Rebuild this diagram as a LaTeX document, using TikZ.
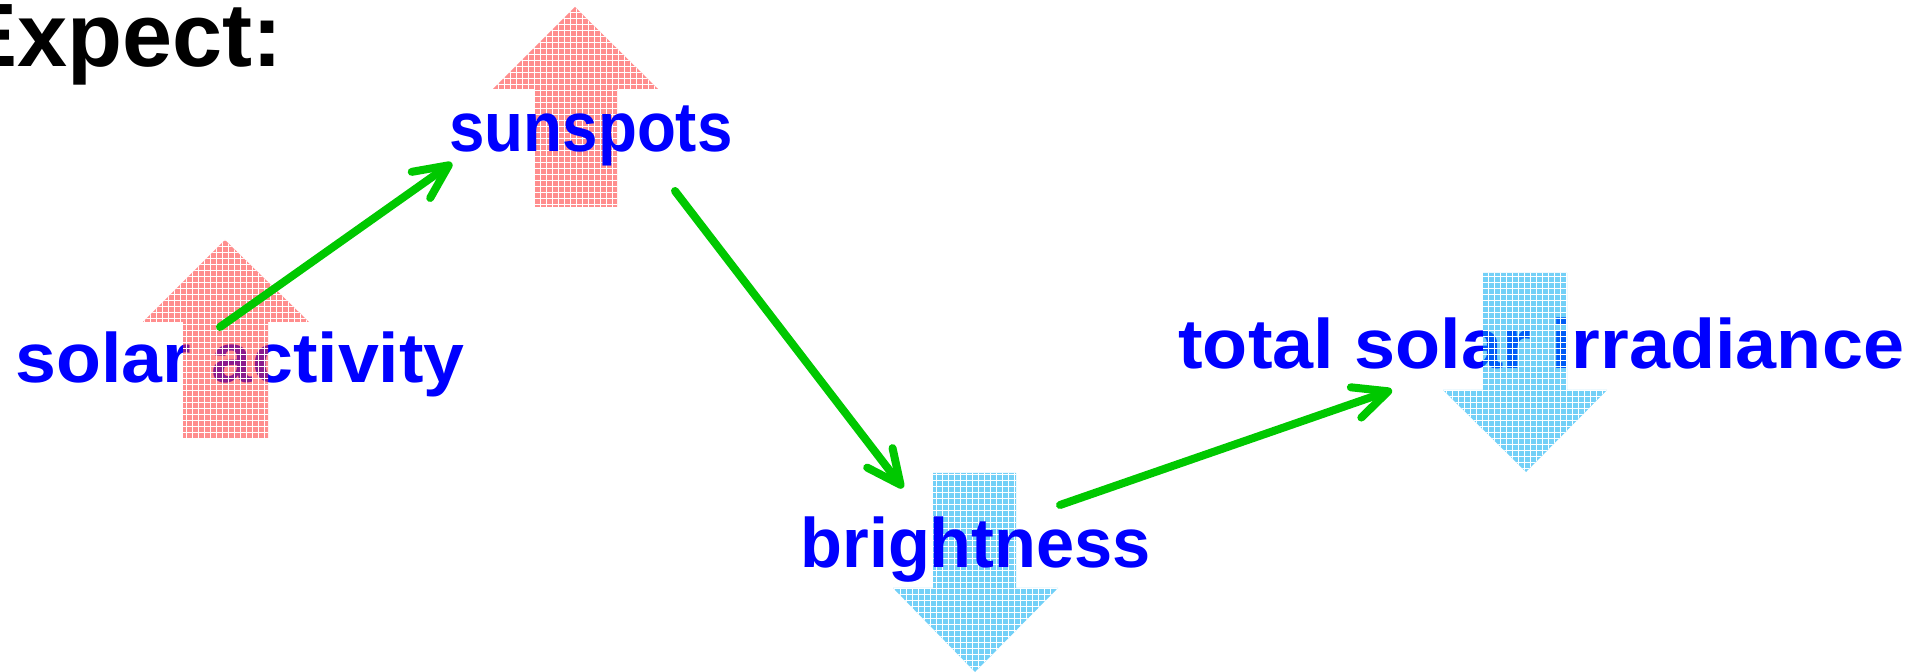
\documentclass[tikz,border=0pt]{standalone}
\usepackage{fontspec}
\setmainfont{Liberation Sans}
\usetikzlibrary{arrows.meta,patterns}
\definecolor{txtblue}{RGB}{0,0,255}
\definecolor{grn}{RGB}{0,200,0}
\definecolor{redtone}{RGB}{255,50,50}
\definecolor{cyantone}{RGB}{0,170,240}
\begin{document}
\begin{tikzpicture}[x=0.5pt,y=-0.5pt,
  lbl/.style={font=\fontsize{35pt}{40pt}\selectfont\bfseries, text=txtblue, inner sep=0pt, anchor=base west},
  ttl/.style={font=\fontsize{45pt}{50pt}\selectfont\bfseries, text=black, inner sep=0pt, anchor=base east},
  redarrow/.style={fill=redtone, fill opacity=0.55, postaction={pattern=grid, pattern color=white}},
  bluearrow/.style={fill=cyantone, fill opacity=0.55, postaction={pattern=grid, pattern color=white}},
  link/.style={draw=grn, line width=4pt, line cap=round, line join=round,
    -{Straight Barb[length=17pt,width=16pt,line cap=round,line join=round]}}
]
\useasboundingbox (0,0) rectangle (1928,672);
% arrows behind text
\path[redarrow] (575,7) -- (658,89) -- (617,89) -- (617,207) -- (534,207) -- (534,89) -- (493,89) -- cycle;
\path[bluearrow] (933,473) -- (1016,473) -- (1016,588) -- (1058,588) -- (975,672) -- (893,588) -- (933,588) -- cycle;
% texts
\node[ttl] (expect) at (283,67) {Expect:};
\node[lbl] (act) at (15,383) {\scalebox{1.05}[1]{solar activity}};
\node[lbl] (spots) at (449,152) {\scalebox{0.91}[1]{sunspots}};
\node[lbl] (bright) at (800,568) {\scalebox{0.98}[1]{brightness}};
\node[lbl] (tsi) at (1178,369) {\scalebox{1.054}[1]{total solar irradiance}};
% arrows over text
\path[redarrow] (225,240) -- (309,322) -- (268,322) -- (268,438) -- (183,438) -- (183,322) -- (143,322) -- cycle;
\path[bluearrow] (1483,273) -- (1567,273) -- (1567,390) -- (1607,390) -- (1526,472) -- (1443,390) -- (1483,390) -- cycle;
% connectors
\coordinate (a1) at (220,327);
\coordinate (a2) at (452,163);
\coordinate (b1) at (675,191);
\coordinate (b2) at (903,488);
\coordinate (c1) at (1060,505);
\coordinate (c2) at (1392,390);
\draw[link] (a1) -- (a2);
\draw[link] (b1) -- (b2);
\draw[link] (c1) -- (c2);
\end{tikzpicture}
\end{document}
